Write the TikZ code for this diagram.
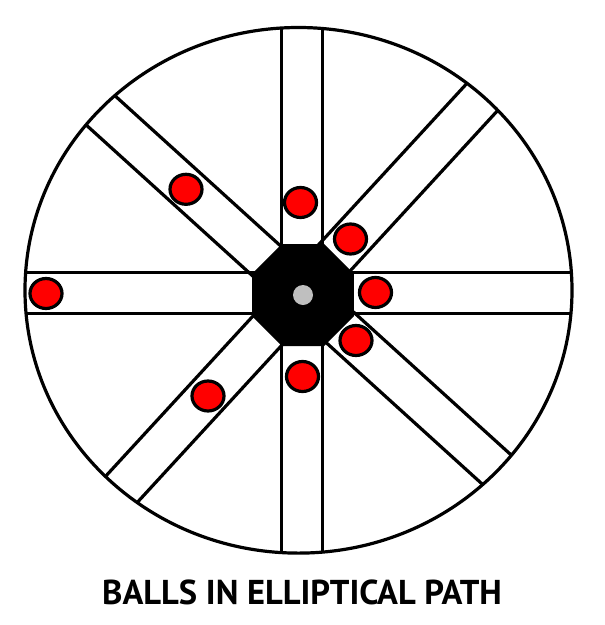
\documentclass[tikz,border=0pt]{standalone}
\usepackage{fontspec}
\setsansfont{PT Sans}
\usetikzlibrary{calc}
\tikzset{
  spoke/.style={line width=3.2pt},
  ball/.style={fill=red, draw=black, line width=3.2pt},
}
\begin{document}
\begin{tikzpicture}[x=1pt,y=-1pt]
    \useasboundingbox (0,0) rectangle (605,625);
    \coordinate (c) at (302,293);
    \coordinate (rim) at (298.5,290.3);
    \coordinate (hub) at (303,295);

    % spokes, cut off at the rim
    \begin{scope}
      \clip (rim) ellipse [x radius=273.5, y radius=262.8];
      \foreach \a [evaluate=\a as \p using \a+90] in {0,90,42.2,132.6} {
        \draw[spoke] ($(c)+(\a:330)+(\p:20.5)$)  -- ($(c)+(\a:-330)+(\p:20.5)$);
        \draw[spoke] ($(c)+(\a:330)+(\p:-20.5)$) -- ($(c)+(\a:-330)+(\p:-20.5)$);
      }
    \end{scope}
    \draw[line width=3.2pt] (rim) ellipse [x radius=273.5, y radius=262.8];

    % hub
    \fill (hub) +(22.5:55.2) -- +(67.5:55.2) -- +(112.5:55.2) -- +(157.5:55.2)
      -- +(202.5:55.2) -- +(247.5:55.2) -- +(292.5:55.2) -- +(337.5:55.2) -- cycle;
    \fill[gray!50] (hub) circle [radius=10];

    % balls
    \foreach \x/\y in {46/293.5, 186/189.3, 300.5/202.5, 350.5/239,
                       375.5/292.5, 356/340.5, 302.5/376.5, 208/396}
      \draw[ball] (\x,\y) ellipse [x radius=16, y radius=15];

    \node[font=\sffamily\bfseries\fontsize{34.5}{34.5}\selectfont] (title) at (302,592) {BALLS IN ELLIPTICAL PATH};
\end{tikzpicture}
\end{document}
